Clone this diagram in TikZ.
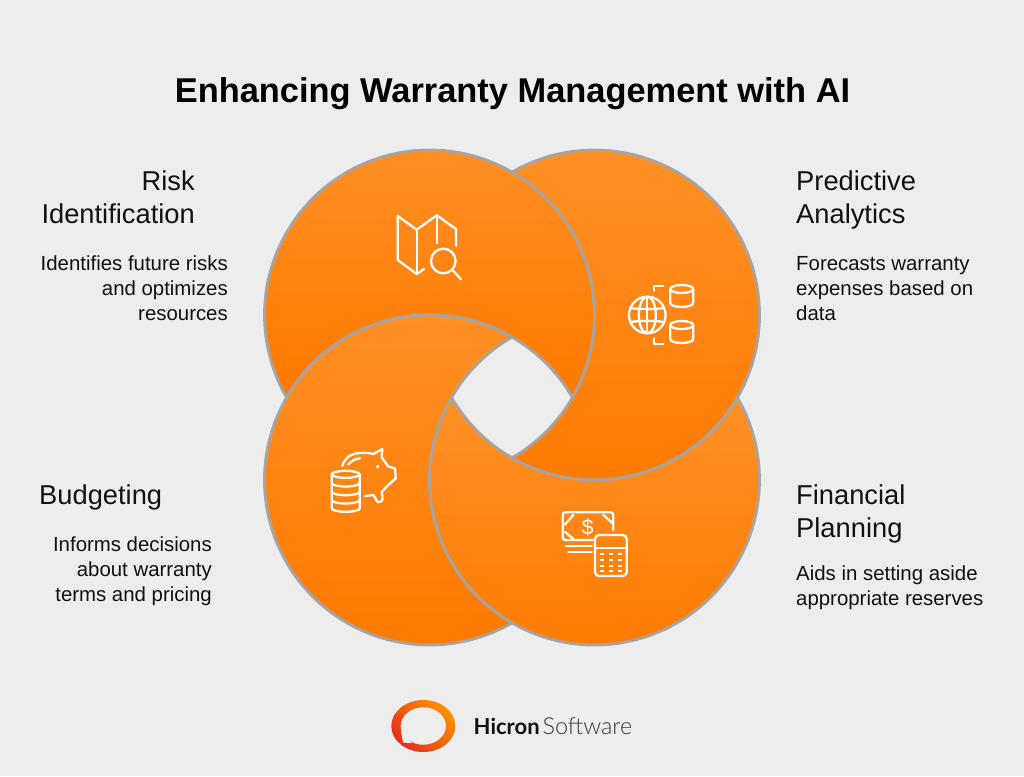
\documentclass[tikz,border=0pt]{standalone}
\usepackage{fontspec}
\setmainfont{Liberation Sans}
\newfontfamily\logolight{Lato Light}
\newfontfamily\logobold{Lato}
\definecolor{bgc}{HTML}{EDEDED}
\definecolor{edgec}{HTML}{A5A5A5}
\definecolor{oTop}{HTML}{FF9026}
\definecolor{oBot}{HTML}{FF7A00}
\definecolor{ink}{HTML}{111111}
\definecolor{logoA}{HTML}{E52E1E}
\definecolor{logoB}{HTML}{FF9200}
\tikzset{
  petal/.style={draw=edgec,line width=2.8pt,line join=round,top color=oTop,bottom color=oBot},
  glyph/.style={draw=white,line width=2.3pt,line cap=round,line join=round},
  hd/.style={font=\fontsize{27.3}{33}\selectfont,text=ink,inner sep=0pt},
  bd/.style={font=\fontsize{20.4}{25}\selectfont,text=ink,inner sep=0pt},
}
\begin{document}
\begin{tikzpicture}[x=1pt,y=-1pt]
\useasboundingbox (0,0) rectangle (1024,776);
\fill[bgc] (0,0) rectangle (1024,776);
\coordinate (TL) at (429.5,315);
\coordinate (TR) at (594.5,315);
\coordinate (BL) at (429.5,480);
\coordinate (BR) at (594.5,480);
% crescents
\path[petal] (TL) ++(-30:165pt) arc[start angle=-30,end angle=210,radius=165pt] arc[start angle=150,end angle=30,radius=165pt] -- cycle;
\path[petal] (TR) ++(240:165pt) arc[start angle=240,end angle=480,radius=165pt] arc[start angle=60,end angle=-60,radius=165pt] -- cycle;
\path[petal] (BR) ++(150:165pt) arc[start angle=150,end angle=390,radius=165pt] arc[start angle=-30,end angle=-150,radius=165pt] -- cycle;
\path[petal] (BL) ++(60:165pt) arc[start angle=60,end angle=300,radius=165pt] arc[start angle=240,end angle=120,radius=165pt] -- cycle;
% title
\node[font=\fontsize{34.4}{40}\selectfont\bfseries,text=black,inner sep=0pt] (title) at (512.5,94) {Enhancing Warranty Management with AI};
% labels
\node[hd,align=right,anchor=north east] (riskh) at (195,171) {Risk\\Identification};
\node[bd,align=right,anchor=north east] (riskb) at (228,256) {Identifies future risks\\and optimizes\\resources};
\node[hd,align=left,anchor=north west] (predh) at (796,171) {Predictive\\Analytics};
\node[bd,align=left,anchor=north west] (predb) at (796,256) {Forecasts warranty\\expenses based on\\data};
\node[hd,align=left,anchor=north west] (budh) at (39,485) {Budgeting};
\node[bd,align=right,anchor=north east] (budb) at (212,537) {Informs decisions\\about warranty\\terms and pricing};
\node[hd,align=left,anchor=north west] (finh) at (796,485) {Financial\\Planning};
\node[bd,align=left,anchor=north west] (finb) at (796,566) {Aids in setting aside\\appropriate reserves};
% map icon
\draw[glyph] (456,246) -- (456,229) -- (436.7,215.3) -- (416.7,229.7) -- (397.7,216) -- (397.7,260) -- (416.7,274) -- (424,269);
\draw[glyph] (416.7,229.7) -- (416.7,274);
\draw[glyph] (436.7,215.3) -- (436.7,243);
\draw[glyph] (443.3,261) circle[radius=12.3pt];
\draw[glyph] (453.3,271) -- (461,279.3);
% globe and data
\draw[glyph] (647.3,315) circle[radius=18.3pt];
\draw[glyph] (647.3,315) ellipse[x radius=8.5pt,y radius=18.3pt];
\draw[glyph] (647.3,296.7) -- (647.3,333.3);
\draw[glyph] (630.5,308) .. controls (640,309.5) and (655,309.5) .. (664,308);
\draw[glyph] (630.5,322) .. controls (640,320.5) and (655,320.5) .. (664,322);
\draw[glyph] (681.7,289) ellipse[x radius=11.5pt,y radius=4pt];
\draw[glyph] (670.2,289) -- (670.2,303) arc[start angle=180,end angle=360,x radius=11.5pt,y radius=4pt] -- (693.2,289);
\draw[glyph] (681.7,325) ellipse[x radius=11.5pt,y radius=4pt];
\draw[glyph] (670.2,325) -- (670.2,339) arc[start angle=180,end angle=360,x radius=11.5pt,y radius=4pt] -- (693.2,325);
\draw[glyph] (654.3,290.7) -- (654.3,285.7) -- (663.3,285.7);
\draw[glyph] (654.3,338.3) -- (654.3,344) -- (663.3,344);
% piggy
\draw[glyph] (342.3,466) .. controls (345,457) and (352,453.3) .. (360,453) .. controls (365,452.6) and (370,453) .. (373.3,454) -- (382.3,449) -- (381.7,457.3) -- (388.3,466.7) -- (395,468.3) -- (395.7,478.3) -- (388.3,485) -- (381.7,491.7) -- (382.7,499) .. controls (382,502) and (378,503) .. (376.7,501) .. controls (375,498) and (375,496) .. (373.3,495) -- (365,496);
\draw[glyph] (348.3,464.3) .. controls (351,461) and (355,459) .. (360,458.3);
\fill[white] (377.7,466.7) circle[radius=1.8pt];
\draw[glyph] (345.7,474.3) ellipse[x radius=14pt,y radius=3.5pt];
\draw[glyph] (331.7,474.3) -- (331.7,508.3) arc[start angle=180,end angle=360,x radius=14pt,y radius=3.5pt] -- (359.7,474.3);
\draw[glyph] (331.7,483) arc[start angle=180,end angle=360,x radius=14pt,y radius=3.5pt];
\draw[glyph] (331.7,491.7) arc[start angle=180,end angle=360,x radius=14pt,y radius=3.5pt];
\draw[glyph] (331.7,500) arc[start angle=180,end angle=360,x radius=14pt,y radius=3.5pt];
% money and calculator
\draw[glyph,rounded corners=2.5pt] (593.3,540) -- (562.7,540) -- (562.7,512.3) -- (613.3,512.3) -- (613.3,530);
\draw[glyph] (565,524.3) -- (573.3,515);
\draw[glyph] (603.3,515) -- (612.7,523.3);
\draw[glyph] (565,531.7) -- (573.3,539);
\node[font=\fontsize{21}{21}\selectfont,text=white,inner sep=0pt] (dollar) at (587.7,527) {\$};
\draw[glyph] (566,546) -- (591.7,546);
\draw[glyph] (568.3,551.7) -- (591.7,551.7);
\draw[glyph,rounded corners=4pt] (595,535) rectangle (626.7,576);
\draw[glyph] (595,547.7) -- (626.7,547.7);
\foreach \yy in {554.3,560,565.7,571}{\foreach \xx in {601.7,611,620}{\draw[glyph,line width=2pt,line cap=butt] (\xx-2.2,\yy) -- (\xx+2.2,\yy);}}
% logo
\shade[even odd rule,left color=logoA,right color=logoB,shading angle=135]
  (423.3,726) ellipse[x radius=32pt,y radius=26pt] (423.3,726) ellipse[x radius=22.7pt,y radius=18.8pt];
\fill[bgc] (401,731) -- (403,742.5) -- (412,743.2) -- cycle;
\node[inner sep=0pt,text=ink,anchor=base west] (logot) at (473.5,734) {{\fontsize{22}{22}\selectfont\logobold\bfseries Hicron}\hspace{3pt}{\fontsize{23.4}{23}\selectfont\color{ink!85}\logolight Software}};
\end{tikzpicture}
\end{document}
